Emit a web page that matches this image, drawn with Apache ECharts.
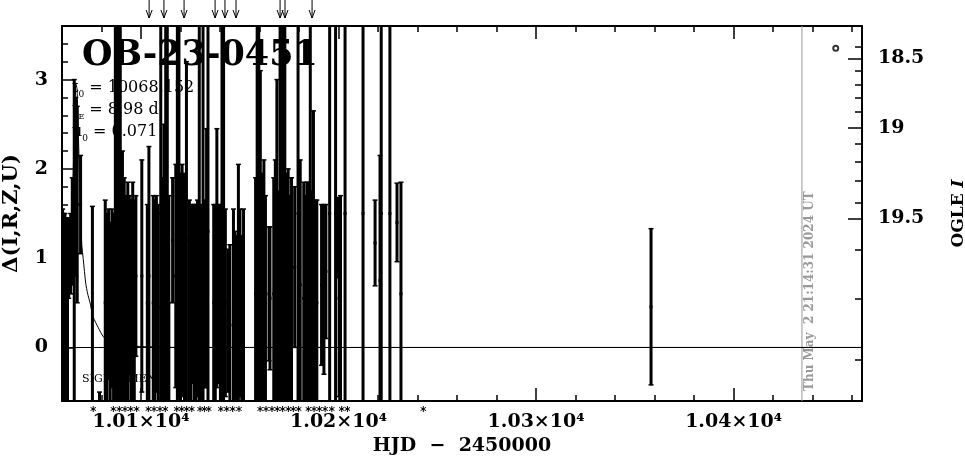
<!DOCTYPE html>
<html><head><meta charset="utf-8">
<script src="https://cdn.jsdelivr.net/npm/echarts@6/dist/echarts.min.js"></script>
<style>html,body{margin:0;padding:0;background:#fff}#c{width:965px;height:459px}</style>
</head><body><div id="c"></div>
<script>
// ---- data ----
const obsT = [
10060.3, 10060.9, 10061.5, 10062.1, 10062.8, 10063.4, 10064.4, 10065.2, 10066.2, 10067.0,
10067.7, 10069.4, 10075.4, 10079.0, 10081.9, 10082.8, 10083.6, 10084.4, 10085.3, 10086.1,
10087.0, 10087.8, 10088.6, 10089.5, 10090.6, 10091.5, 10092.4, 10093.3, 10094.1, 10094.9,
10095.8, 10096.6, 10097.4, 10100.4, 10103.2, 10104.0, 10106.2, 10107.0, 10107.8, 10108.7,
10110.0, 10110.8, 10111.6, 10112.5, 10113.3, 10114.1, 10116.0, 10117.6, 10118.4, 10119.2,
10120.0, 10120.8, 10122.0, 10123.0, 10124.5, 10125.3, 10126.1, 10127.0, 10127.8, 10128.6,
10129.5, 10130.4, 10131.4, 10132.3, 10133.2, 10133.9, 10136.8, 10137.6, 10138.4, 10139.3,
10140.2, 10141.0, 10141.8, 10142.7, 10144.0, 10145.0, 10146.8, 10147.6, 10148.4, 10149.3,
10150.1, 10151.0, 10151.9, 10158.0, 10158.8, 10159.6, 10160.4, 10161.3, 10162.2, 10163.0,
10164.8, 10165.3, 10167.2, 10168.0, 10168.8, 10169.6, 10170.4, 10171.2, 10172.0, 10172.8,
10173.7, 10174.5, 10175.3, 10176.2, 10177.8, 10179.5, 10180.6, 10182.4, 10183.2, 10184.0,
10184.9, 10185.7, 10186.5, 10187.3, 10188.2, 10189.0, 10191.4, 10192.6, 10193.6, 10195.5,
10198.5, 10199.8, 10200.3, 10201.0, 10203.3, 10212.4, 10218.5, 10221.0, 10221.6, 10226.0,
10229.6, 10231.6, 10358.2
];
const obsDelta = [
0.45, 0.55, 0.35, 0.75, 0.4, 1.0, 1.05, 1.3, 1.2, 1.8,
1.6, 1.6, 0.45, -0.75, 0.5, 0.3, 0.6, 0.35, 0.55, 0.4,
1.5, 1.2, 1.6, 1.0, 0.7, 0.6, 0.5, 0.55, 0.7, 0.4,
0.6, 0.5, 0.8, 0.8, 0.5, 0.8, 0.5, 0.35, 0.6, 0.45,
1.5, 0.6, 0.9, 1.4, 1.5, 0.5, 1.2, 0.8, 1.4, 1.5,
0.55, 0.75, 0.6, 1.2, 0.5, 0.3, 0.6, 0.45, 0.35, 0.55,
1.5, 0.5, 1.4, 0.6, 1.0, 1.3, 0.5, 0.4, 1.0, 0.6,
0.35, 1.5, 1.4, 0.5, 0.3, 0.25, 0.4, 0.3, 0.2, 0.6,
0.5, 0.25, 0.45, 0.6, 1.5, 1.5, 1.2, 0.65, 0.7, 0.5,
0.6, 0.55, 0.6, 0.7, 1.1, 0.5, 1.5, 1.4, 1.5, 1.5,
0.6, 0.7, 0.5, 0.65, 0.9, 1.5, 0.7, 0.55, 0.4, 0.6,
0.5, 1.5, 0.45, 1.0, 0.4, 0.5, 0.7, 0.65, 0.85, 1.5,
1.5, 1.23, 0.55, 0.4, 1.5, 1.5, 1.17, 0.75, 1.5, 1.5,
1.4, 0.6, 0.455
];
const obsErr = [
1.1, 0.95, 1.15, 0.7, 1.05, 0.45, 0.45, 0.6, 1.8, 1.0,
1.1, 0.55, 1.13, 0.25, 1.15, 1.2, 0.95, 1.05, 1.0, 1.1,
2.5, 2.6, 2.4, 2.7, 1.5, 1.3, 1.2, 1.3, 1.0, 1.25,
1.25, 1.15, 0.9, 1.3, 1.1, 1.45, 1.2, 1.3, 1.1, 1.15,
2.5, 1.3, 1.6, 2.6, 2.4, 1.2, 0.7, 1.25, 2.6, 2.5,
1.4, 1.3, 1.35, 2.0, 1.15, 1.3, 1.0, 1.15, 1.25, 1.1,
2.5, 1.1, 2.6, 1.05, 1.45, 2.7, 1.1, 1.2, 1.45, 1.0,
1.25, 2.5, 2.5, 1.05, 0.8, 0.9, 1.15, 1.0, 1.05, 1.45,
1.05, 1.0, 1.1, 1.3, 2.5, 2.4, 1.9, 1.3, 1.4, 1.2,
0.75, 0.8, 1.3, 1.4, 1.9, 1.25, 2.5, 2.6, 2.5, 2.5,
1.35, 1.3, 1.2, 1.25, 0.9, 2.5, 1.4, 1.3, 1.3, 1.25,
1.35, 2.5, 1.3, 1.65, 1.25, 1.15, 0.9, 0.95, 0.75, 2.5,
2.5, 0.45, 1.1, 1.3, 2.5, 2.5, 0.48, 1.4, 2.5, 2.5,
0.44, 1.25, 0.875
];
const modelT = [10060.0, 10062.0, 10063.5, 10064.5, 10065.5, 10066.3, 10067.0, 10067.6, 10068.4, 10069.2,
  10070.0, 10070.8, 10072.0, 10073.0, 10074.2, 10075.8, 10078.4, 10080.9, 10084.3, 10090.0, 10100.0, 10120.0, 10465.0];
const modelDelta = [0.33, 0.55, 0.85, 1.2, 1.8, 2.5, 2.95, 2.9, 2.3, 1.65,
  1.15, 0.98, 0.72, 0.6, 0.5, 0.34, 0.22, 0.12, 0.07, 0.03, 0.01, 0.0, 0.0];
const arrowT = [10104.1, 10111.6, 10121.8, 10137.5, 10142.5, 10148.1, 10170.4, 10172.9, 10186.6];
const nightT = [10075.8, 10086.0, 10089.0, 10091.9, 10094.8, 10097.8, 10103.7, 10106.6, 10109.6, 10112.3,
  10118.1, 10120.6, 10123.1, 10125.7, 10129.9, 10132.1, 10134.3, 10140.4, 10143.4, 10146.4, 10149.6,
  10160.3, 10163.3, 10166.3, 10169.0, 10171.7, 10174.6, 10177.1, 10179.8, 10184.7, 10187.6, 10190.3,
  10193.2, 10196.6, 10201.6, 10204.5, 10242.9];
const extraT = [10451.7];
const extraDelta = [3.35];
const dateT = [10434.6];
const dateText = 'Thu May  2 21:14:31 2024 UT';
const xMajorTicks = [10100, 10200, 10300, 10400];
const xTickLabels = ['1.01×10⁴', '1.02×10⁴', '1.03×10⁴', '1.04×10⁴'];
const yMajorTicks = [0, 1, 2, 3];
const yTickLabels = ['0', '1', '2', '3'];
const rightMags = [18.4, 18.5, 18.6, 18.7, 18.8, 18.9, 19.0, 19.1, 19.2, 19.3, 19.4, 19.5, 19.6, 19.7, 19.8];
const rightTickDelta = [3.367, 3.236, 3.095, 2.945, 2.796, 2.639, 2.462, 2.284, 2.079, 1.863, 1.620, 1.445, 1.097, 0.549, -0.141];
const rightLabelMags = [18.5, 19.0, 19.5];
const rightTickLabels = ['18.5', '19', '19.5'];

// ---- layout ----
const X_MIN = 10060, X_MAX = 10465, Y_MIN = -0.6, Y_MAX = 3.6;
const SERIF = '"DejaVu Serif", serif';
const rightMajorDelta = rightLabelMags.map(m => rightTickDelta[rightMags.indexOf(m)]);

const chart = echarts.init(document.getElementById('c'), null, {renderer: 'canvas'});
const blk = '#000';
const axLine = {show: true, onZero: false, lineStyle: {color: blk, width: 2}};
const noLine = {show: false, onZero: false};
const minorTick = len => ({show: true, inside: true, length: len, lineStyle: {color: blk, width: 1.5}});
const lblFont = {color: blk, fontFamily: SERIF, fontWeight: 'bold', fontSize: 19};

function nearestIdx(arr, v) {
  let b = 0; for (let i = 1; i < arr.length; i++) if (Math.abs(arr[i] - v) < Math.abs(arr[b] - v)) b = i; return b;
}

const obsData = obsT.map((t, i) => [t, obsDelta[i], obsErr[i]]);

function renderErr(params, api) {
  const t = api.value(0), d = api.value(1), e = api.value(2);
  const p0 = api.coord([t, d - e]), p1 = api.coord([t, d + e]), pc = api.coord([t, d]);
  const c = 2.5;
  return {type: 'group', children: [
    {type: 'line', shape: {x1: p0[0], y1: p0[1], x2: p1[0], y2: p1[1]}, style: {stroke: blk, lineWidth: 3}},
    {type: 'line', shape: {x1: p0[0] - c, y1: p0[1], x2: p0[0] + c, y2: p0[1]}, style: {stroke: blk, lineWidth: 1.5}},
    {type: 'line', shape: {x1: p1[0] - c, y1: p1[1], x2: p1[0] + c, y2: p1[1]}, style: {stroke: blk, lineWidth: 1.5}},
    {type: 'rect', shape: {x: pc[0] - 1.5, y: pc[1] - 1.5, width: 3, height: 3}, style: {fill: blk}}
  ]};
}
function renderArrow(params, api) {
  const x = api.coord([api.value(0), Y_MAX])[0];
  const top = params.coordSys.y;
  const tip = top - 8;
  return {type: 'group', children: [
    {type: 'line', shape: {x1: x, y1: 0, x2: x, y2: tip}, style: {stroke: blk, lineWidth: 1}},
    {type: 'polyline', shape: {points: [[x - 3, tip - 8], [x, tip], [x + 3, tip - 8]]}, style: {stroke: blk, fill: null, lineWidth: 1}}
  ]};
}
function renderStar(params, api) {
  const x = api.coord([api.value(0), Y_MIN])[0];
  const y = params.coordSys.y + params.coordSys.height + 8;
  const s = {stroke: blk, lineWidth: 1};
  return {type: 'group', children: [
    {type: 'line', shape: {x1: x, y1: y - 3, x2: x, y2: y + 3}, style: s},
    {type: 'line', shape: {x1: x - 2.7, y1: y - 1.6, x2: x + 2.7, y2: y + 1.6}, style: s},
    {type: 'line', shape: {x1: x - 2.7, y1: y + 1.6, x2: x + 2.7, y2: y - 1.6}, style: s}
  ]};
}
function renderDate(params, api) {
  const x = api.coord([api.value(0), Y_MIN])[0];
  const top = params.coordSys.y, bot = params.coordSys.y + params.coordSys.height;
  return {type: 'group', children: [
    {type: 'line', shape: {x1: x, y1: top, x2: x, y2: bot}, style: {stroke: '#999', lineWidth: 1}},
    {type: 'text', x: x + 2, y: bot - 10, rotation: Math.PI / 2,
      style: {text: dateText, fill: '#999', fontFamily: SERIF, fontWeight: 'bold', fontSize: 12, align: 'left', verticalAlign: 'top'}}
  ]};
}

const option = {
  animation: false,
  backgroundColor: '#fff',
  grid: {left: 62, right: 103, top: 26, bottom: 58, containLabel: false, outerBoundsMode: 'none'},
  xAxis: [
    {type: 'value', position: 'bottom', min: X_MIN, max: X_MAX, interval: 20, axisLine: axLine,
      axisTick: minorTick(6), axisLabel: {show: false}, splitLine: {show: false}},
    {type: 'value', position: 'bottom', min: X_MIN, max: X_MAX, axisLine: noLine,
      axisTick: {show: true, inside: true, length: 13, customValues: xMajorTicks, lineStyle: {color: blk, width: 1.5}},
      axisLabel: Object.assign({show: true, customValues: xMajorTicks, margin: 12,
        formatter: v => xTickLabels[nearestIdx(xMajorTicks, v)]}, lblFont),
      splitLine: {show: false},
      name: 'HJD  −  2450000', nameLocation: 'middle', nameGap: 31,
      nameTextStyle: {color: blk, fontFamily: SERIF, fontWeight: 'bold', fontSize: 19}},
    {type: 'value', position: 'top', min: X_MIN, max: X_MAX, interval: 20, axisLine: axLine,
      axisTick: minorTick(6), axisLabel: {show: false}, splitLine: {show: false}},
    {type: 'value', position: 'top', min: X_MIN, max: X_MAX, axisLine: noLine,
      axisTick: {show: true, inside: true, length: 13, customValues: xMajorTicks, lineStyle: {color: blk, width: 1.5}},
      axisLabel: {show: false}, splitLine: {show: false}}
  ],
  yAxis: [
    {type: 'value', position: 'left', min: Y_MIN, max: Y_MAX, interval: 0.2, axisLine: axLine,
      axisTick: minorTick(6), axisLabel: {show: false}, splitLine: {show: false}},
    {type: 'value', position: 'left', min: Y_MIN, max: Y_MAX, axisLine: noLine,
      axisTick: {show: true, inside: true, length: 13, customValues: yMajorTicks, lineStyle: {color: blk, width: 1.5}},
      axisLabel: Object.assign({show: true, customValues: yMajorTicks, margin: 14,
        formatter: v => yTickLabels[nearestIdx(yMajorTicks, v)]}, lblFont),
      splitLine: {show: false},
      name: 'Δ(I,R,Z,U)', nameLocation: 'middle', nameGap: 40, nameRotate: 90,
      nameTextStyle: {color: blk, fontFamily: SERIF, fontWeight: 'bold', fontSize: 21}},
    {type: 'value', position: 'right', min: Y_MIN, max: Y_MAX, axisLine: axLine,
      axisTick: {show: true, inside: true, length: 7, customValues: rightTickDelta, lineStyle: {color: blk, width: 1.5}},
      axisLabel: {show: false}, splitLine: {show: false}},
    {type: 'value', position: 'right', min: Y_MIN, max: Y_MAX, axisLine: noLine,
      axisTick: {show: true, inside: true, length: 14, customValues: rightMajorDelta, lineStyle: {color: blk, width: 1.5}},
      axisLabel: Object.assign({show: true, customValues: rightMajorDelta, margin: 16,
        formatter: v => rightTickLabels[nearestIdx(rightMajorDelta, v)]}, lblFont),
      splitLine: {show: false},
      name: '{a|OGLE }{b|I}', nameLocation: 'middle', nameGap: 88, nameRotate: 90,
      nameTextStyle: {color: blk, fontFamily: SERIF, fontWeight: 'bold', fontSize: 17,
        rich: {a: {fontFamily: SERIF, fontWeight: 'bold', fontSize: 17}, b: {fontFamily: SERIF, fontWeight: 'bold', fontStyle: 'italic', fontSize: 17}}}}
  ],
  graphic: [
    {type: 'text', x: 82, y: 56, z: 0, style: {text: 'OB-23-0451', fill: blk, fontFamily: SERIF, fontWeight: 'bold', fontSize: 35, verticalAlign: 'middle'}},
    {type: 'text', x: 72, y: 88, z: 0, style: {text: '{m|t}{s|0}{m| = 10068.152}', verticalAlign: 'middle',
      rich: {m: {fontFamily: SERIF, fontSize: 16, fill: blk, lineHeight: 22, verticalAlign: 'middle'}, s: {fontFamily: SERIF, fontSize: 9, fill: blk, lineHeight: 22, verticalAlign: 'bottom'}}}},
    {type: 'text', x: 72, y: 110, z: 0, style: {text: '{m|t}{s|E}{m| = 8.98 d}', verticalAlign: 'middle',
      rich: {m: {fontFamily: SERIF, fontSize: 16, fill: blk, lineHeight: 22, verticalAlign: 'middle'}, s: {fontFamily: SERIF, fontSize: 8, fill: blk, lineHeight: 22, verticalAlign: 'bottom'}}}},
    {type: 'text', x: 72, y: 132, z: 0, style: {text: '{m|u}{s|0}{m| = 0.071}', verticalAlign: 'middle',
      rich: {m: {fontFamily: SERIF, fontSize: 16, fill: blk, lineHeight: 22, verticalAlign: 'middle'}, s: {fontFamily: SERIF, fontSize: 9, fill: blk, lineHeight: 22, verticalAlign: 'bottom'}}}},
    {type: 'text', x: 82, y: 379, z: 0, style: {text: 'SIGNALMEN', fill: blk, fontFamily: SERIF, fontSize: 11, verticalAlign: 'middle'}}
  ],
  series: [
    {type: 'line', xAxisIndex: 0, yAxisIndex: 0, data: modelT.map((t, i) => [t, modelDelta[i]]),
      showSymbol: false, smooth: 0.2, lineStyle: {color: blk, width: 1}, z: 3, silent: true,
      markLine: {silent: true, symbol: ['none', 'none'], label: {show: false},
        lineStyle: {color: blk, width: 1, type: 'solid'}, data: [{yAxis: 0}]}},
    {type: 'custom', xAxisIndex: 0, yAxisIndex: 0, data: obsData, renderItem: renderErr, clip: true, z: 4, silent: true},
    {type: 'scatter', xAxisIndex: 0, yAxisIndex: 0, data: extraT.map((t, i) => [t, extraDelta[i]]),
      symbol: 'emptyCircle', symbolSize: 5, itemStyle: {color: blk, borderColor: blk, borderWidth: 1.5}, z: 5, silent: true},
    {type: 'custom', xAxisIndex: 0, yAxisIndex: 0, data: dateT.map(t => [t]), encode: {x: 0, y: 0}, renderItem: renderDate, clip: false, z: 2, silent: true},
    {type: 'custom', xAxisIndex: 0, yAxisIndex: 0, data: arrowT.map(t => [t]), encode: {x: 0, y: 0}, renderItem: renderArrow, clip: false, z: 5, silent: true},
    {type: 'custom', xAxisIndex: 0, yAxisIndex: 0, data: nightT.map(t => [t]), encode: {x: 0, y: 0}, renderItem: renderStar, clip: false, z: 5, silent: true}
  ]
};
chart.setOption(option);
</script>
</body></html>
